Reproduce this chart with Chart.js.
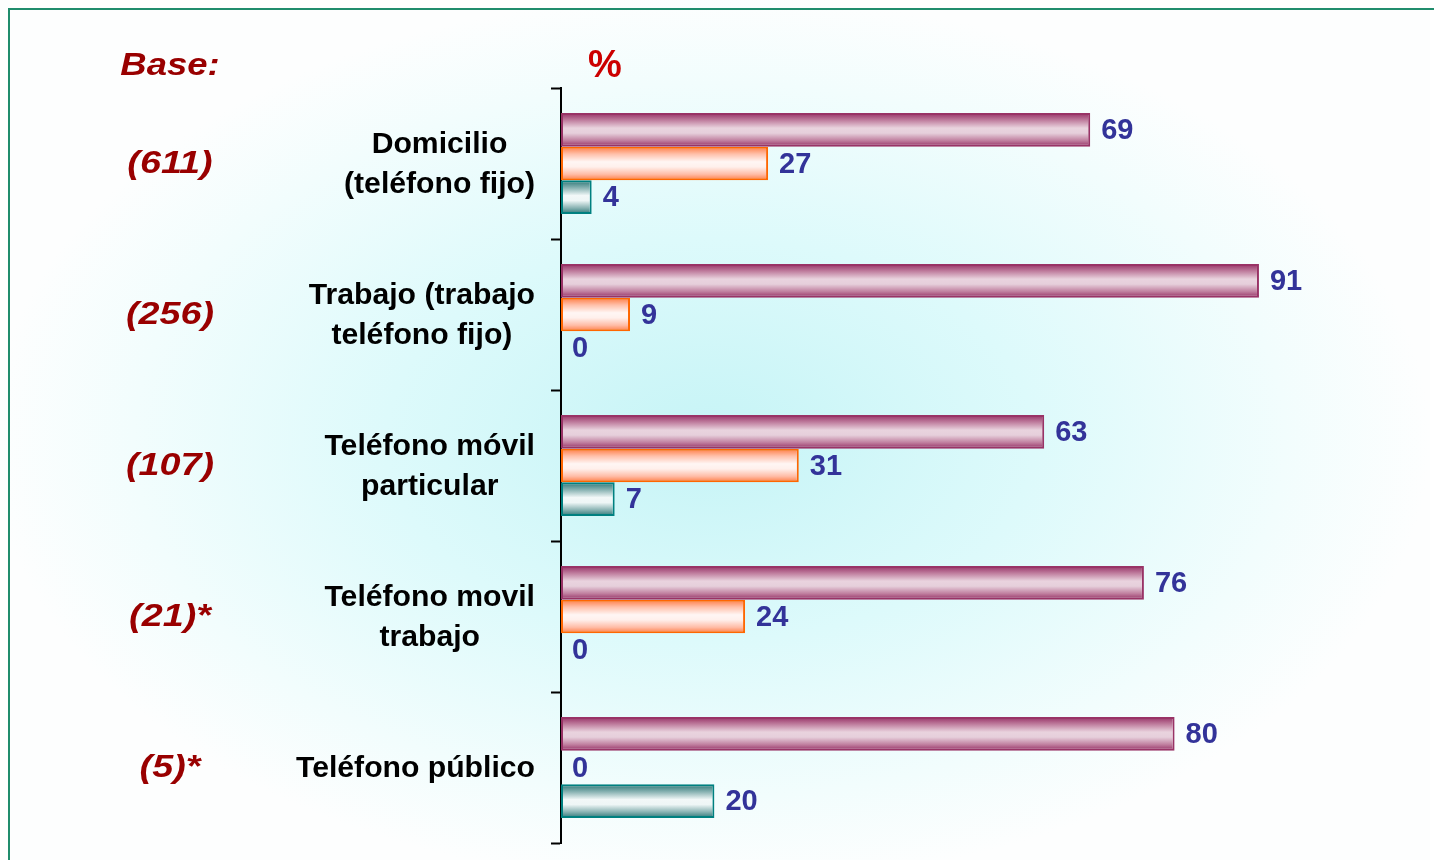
<!DOCTYPE html>
<html>
<head>
<meta charset="utf-8">
<script src="https://cdn.jsdelivr.net/npm/chart.js@4.4.0/dist/chart.umd.min.js"></script>
<style>
  body { margin: 0; background: #fff; }
  #wrap { width: 1434px; height: 860px; }
</style>
</head>
<body>
<div id="wrap"><canvas id="myChart" width="1434" height="860"></canvas></div>
<script>
// categories (multi-line labels) and the base sizes shown on the left
var categories = [
  ["Domicilio", "(teléfono fijo)"],
  ["Trabajo (trabajo", "teléfono fijo)"],
  ["Teléfono móvil", "particular"],
  ["Teléfono movil", "trabajo"],
  ["Teléfono público"]
];
var bases = ["(611)", "(256)", "(107)", "(21)*", "(5)*"];

// series values (%)
var serie1 = [69, 91, 63, 76, 80];
var serie2 = [27, 9, 31, 24, 0];
var serie3 = [4, 0, 7, 0, 20];

var FONT = "'Liberation Sans', Arial, sans-serif";

// gradient stops for each series (top -> bottom of a bar)
var gradStops = [
  ["#952f64", "#c07f9f", "#e9d3de", "#e6cfdb", "#c07f9f", "#952f64"],
  ["#ff7a40", "#ffc0aa", "#fff6f4", "#fff0ec", "#ffbca6", "#ff7a40"],
  ["#2a7676", "#88b2b2", "#f2f8f8", "#eef6f6", "#88b2b2", "#2a7676"]
];

var ctx = document.getElementById("myChart").getContext("2d");

// page background: white, soft cyan glow, green frame
var backgroundPlugin = {
  id: "background",
  beforeDraw: function (chart) {
    var c = chart.ctx;
    c.save();
    c.fillStyle = "#ffffff";
    c.fillRect(0, 0, chart.width, chart.height);
    c.translate(710, 440);
    c.scale(1, 0.62);
    var g = c.createRadialGradient(0, 0, 0, 0, 0, 720);
    g.addColorStop(0, "#c6f4f6");
    g.addColorStop(0.45, "#ddfafb");
    g.addColorStop(0.8, "#f2fdfd");
    g.addColorStop(1, "#fdfefe");
    c.fillStyle = g;
    c.fillRect(-720, -720, 1440, 1440);
    c.restore();
    c.save();
    c.strokeStyle = "#1f8c6c";
    c.lineWidth = 2;
    c.strokeRect(9, 9, 1500, 900);
    c.restore();
  }
};

// shaded bars: a vertical gradient over each bar
var gradientPlugin = {
  id: "barGradient",
  beforeDatasetsDraw: function (chart) {
    var c = chart.ctx;
    chart.data.datasets.forEach(function (ds, di) {
      var meta = chart.getDatasetMeta(di);
      meta.data.forEach(function (bar) {
        var p = bar.getProps(["y", "height"], true);
        var top = p.y - p.height / 2;
        var g = c.createLinearGradient(0, top, 0, top + p.height);
        var stops = gradStops[di];
        var pos = [0, 0.22, 0.45, 0.6, 0.82, 1];
        for (var i = 0; i < stops.length; i++) g.addColorStop(pos[i], stops[i]);
        bar.options = Object.assign({}, bar.options, { backgroundColor: g });
      });
    });
  }
};

// value labels right of each bar
var valuePlugin = {
  id: "values",
  afterDatasetsDraw: function (chart) {
    var c = chart.ctx;
    c.save();
    c.font = "bold 29px " + FONT;
    c.fillStyle = "#333399";
    c.textAlign = "left";
    c.textBaseline = "middle";
    chart.data.datasets.forEach(function (ds, di) {
      chart.getDatasetMeta(di).data.forEach(function (bar, i) {
        c.fillText(ds.data[i], bar.x + 11, bar.y + 1);
      });
    });
    c.restore();
  }
};

// category labels, base column and headers
var labelPlugin = {
  id: "labels",
  afterDraw: function (chart) {
    var c = chart.ctx;
    var yScale = chart.scales.y;
    c.save();
    c.textBaseline = "middle";
    categories.forEach(function (lines, i) {
      var yc = yScale.getPixelForValue(i);
      c.save();
      c.font = "bold 29px " + FONT;
      c.fillStyle = "#000000";
      c.textAlign = "center";
      var w = 0;
      lines.forEach(function (l) { w = Math.max(w, c.measureText(l).width); });
      var sx = 1.04;
      c.translate(535 - (w * sx) / 2, 0);
      c.scale(sx, 1);
      lines.forEach(function (l, k) {
        c.fillText(l, 0, yc + (k - (lines.length - 1) / 2) * 40 + 1);
      });
      c.restore();
      // base
      c.save();
      c.translate(170, yc + 1);
      c.scale(1.18, 1);
      c.font = "italic bold 32px " + FONT;
      c.fillStyle = "#990000";
      c.textAlign = "center";
      c.fillText(bases[i], 0, 0);
      c.restore();
    });
    c.save();
    c.translate(170, 66);
    c.scale(1.14, 1);
    c.font = "italic bold 32px " + FONT;
    c.fillStyle = "#990000";
    c.textAlign = "center";
    c.fillText("Base:", 0, 0);
    c.restore();
    c.font = "bold 38px " + FONT;
    c.fillStyle = "#cc0000";
    c.textAlign = "center";
    c.fillText("%", 605, 67);
    c.restore();
  }
};

var myChart = new Chart(ctx, {
  type: "bar",
  data: {
    labels: categories,
    datasets: [
      { label: "Serie 1", data: serie1, borderColor: "#993366" },
      { label: "Serie 2", data: serie2, borderColor: "#ff6600" },
      { label: "Serie 3", data: serie3, borderColor: "#008080" }
    ]
  },
  options: {
    indexAxis: "y",
    responsive: false,
    animation: false,
    layout: { padding: { top: 88, bottom: 17, right: 106, left: 0 } },
    datasets: {
      bar: {
        categoryPercentage: 0.67,
        barPercentage: 1.0,
        borderWidth: 2,
        borderSkipped: false
      }
    },
    plugins: {
      legend: { display: false },
      tooltip: { enabled: false }
    },
    scales: {
      x: { display: false, min: 0, max: 100 },
      y: {
        z: 1,
        ticks: { display: false },
        grid: {
          drawOnChartArea: false,
          drawTicks: true,
          tickLength: 10,
          tickColor: "#000000",
          tickWidth: 2
        },
        border: { display: true, color: "#000000", width: 2 },
        afterFit: function (scale) { scale.width = 561; }
      }
    }
  },
  plugins: [backgroundPlugin, gradientPlugin, valuePlugin, labelPlugin]
});
</script>
</body>
</html>
